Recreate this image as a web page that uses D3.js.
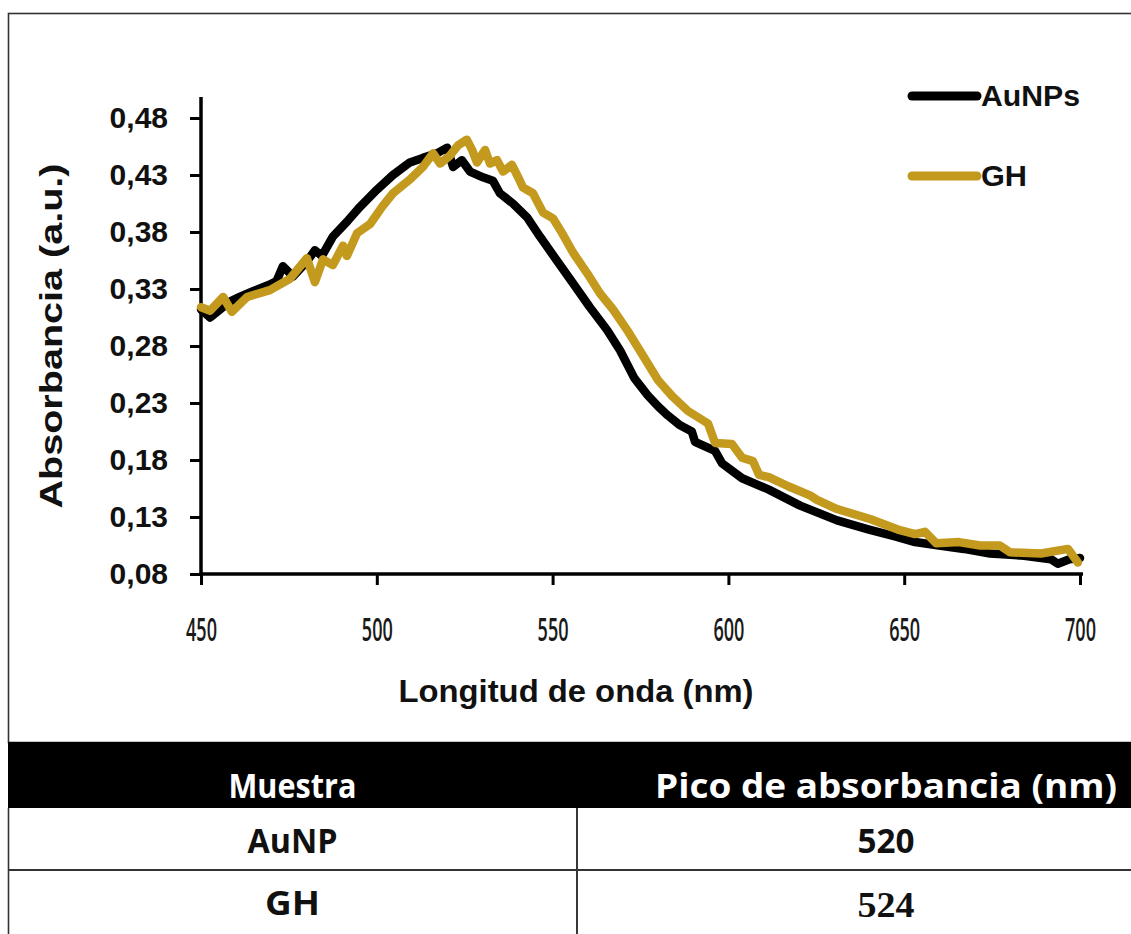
<!DOCTYPE html>
<html>
<head>
<meta charset="utf-8">
<script src="https://cdn.jsdelivr.net/npm/d3@7"></script>
<style>
  html, body { margin: 0; padding: 0; background: #fff; }
  svg { display: block; }
</style>
</head>
<body>
<svg id="chart" width="1131" height="934"></svg>
<script>
// UV-Vis absorbance spectra: wavelength (nm) and absorbance (a.u.)
const wavelengthAu = [450, 452.6, 455, 458.2, 461, 464.8, 469.6, 471.5, 473.3, 476.2, 480.1, 482.4, 484.4, 487.5, 491.5, 495.2, 500, 504.6, 509.4, 513.1, 517.1, 520, 521.7, 524.2, 526.5, 530.2, 533, 535, 538.7, 542.7, 546.4, 551.2, 555.8, 560.6, 565.5, 569.2, 573.2, 577, 580, 582.8, 586, 589.6, 590.5, 596.2, 598.2, 603.9, 611.5, 620.4, 630.9, 640, 647.4, 653.1, 659.9, 667, 674.4, 684.1, 691.7, 693.7, 697, 700];
const absorbAu = [0.312, 0.305, 0.311, 0.319, 0.323, 0.328, 0.334, 0.337, 0.350, 0.341, 0.354, 0.364, 0.359, 0.376, 0.389, 0.402, 0.417, 0.430, 0.441, 0.445, 0.449, 0.454, 0.437, 0.443, 0.433, 0.428, 0.425, 0.414, 0.405, 0.393, 0.376, 0.355, 0.335, 0.314, 0.294, 0.276, 0.252, 0.237, 0.227, 0.219, 0.211, 0.205, 0.196, 0.188, 0.177, 0.164, 0.154, 0.140, 0.127, 0.119, 0.113, 0.108, 0.105, 0.102, 0.098, 0.096, 0.093, 0.089, 0.093, 0.094];

const wavelengthGH = [450, 452.6, 456.3, 458.8, 463.1, 469.6, 475.3, 480.1, 482.4, 484.7, 487.5, 490.4, 491.5, 494.4, 498.1, 501.5, 504.6, 509.4, 513.1, 516, 518, 520.8, 523.1, 525.6, 527.1, 528.5, 530.8, 532.2, 534.2, 535.9, 538.4, 540.2, 541.6, 544.4, 547.3, 550.1, 552.7, 555.8, 559.8, 563.5, 567.2, 571.2, 574.8, 580, 584, 588.5, 594.2, 596.2, 601, 603.9, 607, 608.7, 611.5, 617, 623.2, 625.2, 630.9, 640.5, 648.2, 653.1, 655.9, 659.1, 665.6, 671.6, 677.2, 680.1, 688.9, 696.6, 699.4];
const absorbGH = [0.314, 0.311, 0.323, 0.310, 0.323, 0.329, 0.339, 0.357, 0.336, 0.356, 0.351, 0.368, 0.359, 0.379, 0.387, 0.402, 0.414, 0.426, 0.437, 0.449, 0.440, 0.447, 0.456, 0.461, 0.452, 0.441, 0.452, 0.440, 0.443, 0.433, 0.439, 0.428, 0.419, 0.414, 0.397, 0.392, 0.379, 0.362, 0.344, 0.326, 0.312, 0.294, 0.276, 0.250, 0.236, 0.223, 0.212, 0.195, 0.194, 0.182, 0.179, 0.167, 0.165, 0.157, 0.149, 0.145, 0.137, 0.128, 0.119, 0.115, 0.117, 0.107, 0.108, 0.105, 0.105, 0.099, 0.098, 0.102, 0.090];

const seriesNames = ["AuNPs", "GH"];
const seriesColors = ["#000000", "#C39A1E"];

const xTicks = [450, 500, 550, 600, 650, 700];
const yTicks = [0.08, 0.13, 0.18, 0.23, 0.28, 0.33, 0.38, 0.43, 0.48];

const xTitle = "Longitud de onda (nm)";
const yTitle = "Absorbancia (a.u.)";

// Summary table of absorbance peaks
const tableHeader = ["Muestra", "Pico de absorbancia (nm)"];
const sampleNames = ["AuNP", "GH"];
const peakValues = [520, 524];

const svg = d3.select("#chart");
const SANS = "'Liberation Sans', Arial, sans-serif";
const TABLE_FONT = "'Open Sans', 'Noto Sans', sans-serif";

// Outer frame around the plot
svg.append("rect")
  .attr("x", 8.5).attr("y", 13.5)
  .attr("width", 1140).attr("height", 729)
  .attr("fill", "none").attr("stroke", "#333").attr("stroke-width", 1.6);

const x = d3.scaleLinear().domain([450, 700]).range([201, 1080]);
const y = d3.scaleLinear().domain([0.08, 0.48]).range([574, 118]);

// Y axis
const yAxis = svg.append("g")
  .attr("transform", `translate(${x(450)},0)`)
  .call(d3.axisLeft(y).tickValues(yTicks).tickSize(11).tickPadding(22)
        .tickFormat(d => d3.format(".2f")(d).replace(".", ",")));
yAxis.select(".domain").remove();
yAxis.selectAll(".tick line").attr("stroke", "#000").attr("stroke-width", 3);
yAxis.selectAll(".tick text")
  .attr("fill", "#111")
  .style("font-family", SANS).style("font-weight", "bold").style("font-size", "30px");

// X axis
const xAxis = svg.append("g")
  .attr("transform", `translate(0,${y(0.08)})`)
  .call(d3.axisBottom(x).tickValues(xTicks).tickSize(11).tickPadding(33).tickFormat(d3.format("d")));
xAxis.select(".domain").remove();
xAxis.selectAll(".tick line").attr("stroke", "#000").attr("stroke-width", 3);
xAxis.selectAll(".tick text")
  .attr("fill", "#1a1a1a")
  .attr("textLength", 31).attr("lengthAdjust", "spacingAndGlyphs")
  .style("font-family", TABLE_FONT).style("font-weight", "600").style("font-size", "32px");

// Axis lines (y axis runs a little past the top tick, x axis a little past 700)
svg.append("line")
  .attr("x1", x(450)).attr("x2", x(450))
  .attr("y1", y(0.48) - 21).attr("y2", y(0.08) + 1.5)
  .attr("stroke", "#000").attr("stroke-width", 3.5);
svg.append("line")
  .attr("x1", x(450) - 1.5).attr("x2", x(700) + 3)
  .attr("y1", y(0.08)).attr("y2", y(0.08))
  .attr("stroke", "#000").attr("stroke-width", 3.5);

// Spectra
const line = d3.line().x(d => x(d[0])).y(d => y(d[1]));
const seriesData = [
  d3.zip(wavelengthAu, absorbAu),
  d3.zip(wavelengthGH, absorbGH)
];
seriesData.forEach((pts, i) => {
  svg.append("path")
    .datum(pts)
    .attr("d", line)
    .attr("fill", "none")
    .attr("stroke", seriesColors[i])
    .attr("stroke-width", 8.5)
    .attr("stroke-linejoin", "round")
    .attr("stroke-linecap", "round");
});

// Legend
const legendRows = [96, 176];
const legendTextLen = [99, 46];
seriesNames.forEach((name, i) => {
  svg.append("line")
    .attr("x1", 912).attr("x2", 977)
    .attr("y1", legendRows[i]).attr("y2", legendRows[i])
    .attr("stroke", seriesColors[i]).attr("stroke-width", 9)
    .attr("stroke-linecap", "round");
  svg.append("text")
    .attr("x", 981).attr("y", legendRows[i] + 10)
    .attr("textLength", legendTextLen[i]).attr("lengthAdjust", "spacingAndGlyphs")
    .attr("fill", "#111")
    .style("font-family", SANS).style("font-weight", "bold").style("font-size", "30px")
    .text(name);
});

// Axis titles
svg.append("text")
  .attr("x", 576).attr("y", 702)
  .attr("text-anchor", "middle")
  .attr("textLength", 355).attr("lengthAdjust", "spacingAndGlyphs")
  .attr("fill", "#111")
  .style("font-family", SANS).style("font-weight", "bold").style("font-size", "32px")
  .text(xTitle);

svg.append("text")
  .attr("transform", "translate(62,336) rotate(-90)")
  .attr("text-anchor", "middle")
  .attr("textLength", 345).attr("lengthAdjust", "spacingAndGlyphs")
  .attr("fill", "#111")
  .style("font-family", SANS).style("font-weight", "bold").style("font-size", "32px")
  .text(yTitle);

// Table (right column runs past the page edge)
const colX = [8, 577, 1195];
const rowY = [742, 808, 870, 934];
const colCenter = [(colX[0] + colX[1]) / 2, (colX[1] + colX[2]) / 2];

svg.append("rect")
  .attr("x", colX[0]).attr("y", rowY[0])
  .attr("width", 1131 - colX[0]).attr("height", rowY[1] - rowY[0])
  .attr("fill", "#000");

svg.append("line")
  .attr("x1", colX[0] + 0.5).attr("x2", colX[0] + 0.5)
  .attr("y1", rowY[1]).attr("y2", 934)
  .attr("stroke", "#333").attr("stroke-width", 1.6);
svg.append("line")
  .attr("x1", colX[1]).attr("x2", colX[1])
  .attr("y1", rowY[1]).attr("y2", 934)
  .attr("stroke", "#222").attr("stroke-width", 1.8);
svg.append("line")
  .attr("x1", colX[0]).attr("x2", 1131)
  .attr("y1", rowY[2]).attr("y2", rowY[2])
  .attr("stroke", "#333").attr("stroke-width", 2.2);

const headerLen = [128, 462];
tableHeader.forEach((h, i) => {
  svg.append("text")
    .attr("x", colCenter[i]).attr("y", 798)
    .attr("text-anchor", "middle")
    .attr("textLength", headerLen[i]).attr("lengthAdjust", "spacingAndGlyphs")
    .attr("fill", "#fff")
    .style("font-family", TABLE_FONT).style("font-weight", "bold").style("font-size", "34px")
    .text(h);
});

const nameLen = [90, 55];
const rowBase = [853, 915];
sampleNames.forEach((n, i) => {
  svg.append("text")
    .attr("x", colCenter[0]).attr("y", rowBase[i])
    .attr("text-anchor", "middle")
    .attr("textLength", nameLen[i]).attr("lengthAdjust", "spacingAndGlyphs")
    .attr("fill", "#111")
    .style("font-family", TABLE_FONT).style("font-weight", "bold").style("font-size", "34px")
    .text(n);
});
peakValues.forEach((v, i) => {
  svg.append("text")
    .attr("x", colCenter[1]).attr("y", rowBase[i] + (i === 1 ? 2 : 0))
    .attr("text-anchor", "middle")
    .attr("textLength", 57).attr("lengthAdjust", "spacingAndGlyphs")
    .attr("fill", "#111")
    .style("font-family", i === 1 ? "'Liberation Serif', 'DejaVu Serif', serif" : TABLE_FONT)
    .style("font-weight", "bold").style("font-size", i === 1 ? "36px" : "34px")
    .text(String(v));
});
</script>
</body>
</html>
